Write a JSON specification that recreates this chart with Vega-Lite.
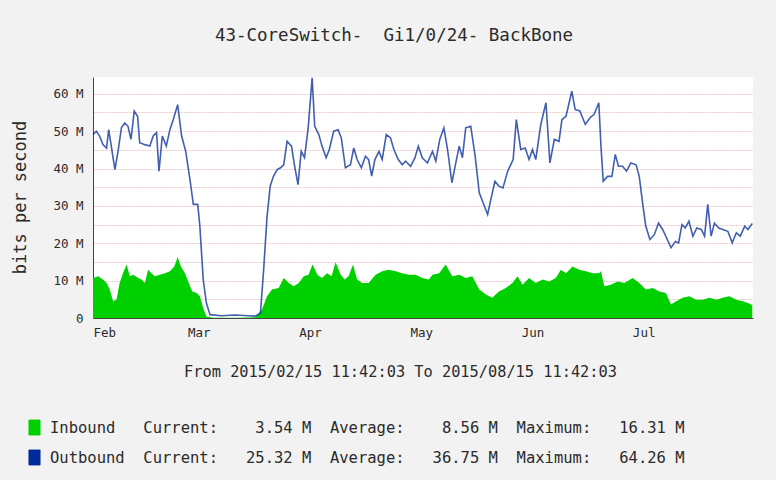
{
  "$schema": "https://vega.github.io/schema/vega-lite/v6.json",
  "autosize": "none",
  "width": 660,
  "height": 241,
  "padding": {"left": 93, "top": 77, "right": 23, "bottom": 162},
  "background": "#f2f2f2",
  "title": {
    "text": "43-CoreSwitch-\u00a0\u00a0Gi1/0/24-\u00a0BackBone",
    "font": "DejaVu Sans Mono",
    "fontSize": 17.5,
    "fontWeight": "normal",
    "color": "#2b2b2b",
    "anchor": "middle",
    "dx": -29,
    "offset": 30
  },
  "datasets": {
    "months": [
      {"m": "2015-03-01T00:00"}, {"m": "2015-04-01T00:00"}, {"m": "2015-05-01T00:00"},
      {"m": "2015-06-01T00:00"}, {"m": "2015-07-01T00:00"}, {"m": "2015-08-01T00:00"}
    ],
    "traffic": [
      {"t": "2015-02-15T12:00", "series": "Outbound", "mbps": 49.1},
      {"t": "2015-02-16T10:00", "series": "Outbound", "mbps": 50},
      {"t": "2015-02-17T07:00", "series": "Outbound", "mbps": 48.7},
      {"t": "2015-02-18T05:00", "series": "Outbound", "mbps": 46.4},
      {"t": "2015-02-19T05:00", "series": "Outbound", "mbps": 45.5},
      {"t": "2015-02-19T19:00", "series": "Outbound", "mbps": 50.4},
      {"t": "2015-02-20T12:00", "series": "Outbound", "mbps": 46},
      {"t": "2015-02-21T12:00", "series": "Outbound", "mbps": 39.7},
      {"t": "2015-02-22T10:00", "series": "Outbound", "mbps": 45},
      {"t": "2015-02-23T07:00", "series": "Outbound", "mbps": 51},
      {"t": "2015-02-24T05:00", "series": "Outbound", "mbps": 52.2},
      {"t": "2015-02-25T02:00", "series": "Outbound", "mbps": 51.3},
      {"t": "2015-02-25T22:00", "series": "Outbound", "mbps": 47.8},
      {"t": "2015-02-26T19:00", "series": "Outbound", "mbps": 55.4},
      {"t": "2015-02-27T17:00", "series": "Outbound", "mbps": 54},
      {"t": "2015-02-28T07:00", "series": "Outbound", "mbps": 46.9},
      {"t": "2015-03-01T17:00", "series": "Outbound", "mbps": 46.4},
      {"t": "2015-03-03T02:00", "series": "Outbound", "mbps": 46},
      {"t": "2015-03-04T00:00", "series": "Outbound", "mbps": 48.7},
      {"t": "2015-03-04T22:00", "series": "Outbound", "mbps": 49.6},
      {"t": "2015-03-05T14:00", "series": "Outbound", "mbps": 39.3},
      {"t": "2015-03-06T12:00", "series": "Outbound", "mbps": 48.7},
      {"t": "2015-03-07T14:00", "series": "Outbound", "mbps": 46},
      {"t": "2015-03-08T14:00", "series": "Outbound", "mbps": 50.4},
      {"t": "2015-03-09T12:00", "series": "Outbound", "mbps": 53.1},
      {"t": "2015-03-10T17:00", "series": "Outbound", "mbps": 57.1},
      {"t": "2015-03-11T19:00", "series": "Outbound", "mbps": 48.7},
      {"t": "2015-03-12T22:00", "series": "Outbound", "mbps": 44.6},
      {"t": "2015-03-14T02:00", "series": "Outbound", "mbps": 37},
      {"t": "2015-03-15T00:00", "series": "Outbound", "mbps": 30.4},
      {"t": "2015-03-16T05:00", "series": "Outbound", "mbps": 30.4},
      {"t": "2015-03-16T19:00", "series": "Outbound", "mbps": 24.6},
      {"t": "2015-03-17T17:00", "series": "Outbound", "mbps": 10.3},
      {"t": "2015-03-18T14:00", "series": "Outbound", "mbps": 4},
      {"t": "2015-03-19T14:00", "series": "Outbound", "mbps": 0.9},
      {"t": "2015-03-22T17:00", "series": "Outbound", "mbps": 0.6},
      {"t": "2015-03-26T12:00", "series": "Outbound", "mbps": 0.8},
      {"t": "2015-03-30T02:00", "series": "Outbound", "mbps": 0.6},
      {"t": "2015-04-01T00:00", "series": "Outbound", "mbps": 0.5},
      {"t": "2015-04-02T10:00", "series": "Outbound", "mbps": 1.3},
      {"t": "2015-04-03T07:00", "series": "Outbound", "mbps": 13},
      {"t": "2015-04-04T05:00", "series": "Outbound", "mbps": 27},
      {"t": "2015-04-05T02:00", "series": "Outbound", "mbps": 35.3},
      {"t": "2015-04-06T00:00", "series": "Outbound", "mbps": 38},
      {"t": "2015-04-07T00:00", "series": "Outbound", "mbps": 39.7},
      {"t": "2015-04-07T22:00", "series": "Outbound", "mbps": 40.2},
      {"t": "2015-04-08T19:00", "series": "Outbound", "mbps": 41},
      {"t": "2015-04-09T17:00", "series": "Outbound", "mbps": 47.3},
      {"t": "2015-04-10T22:00", "series": "Outbound", "mbps": 46},
      {"t": "2015-04-11T19:00", "series": "Outbound", "mbps": 40.6},
      {"t": "2015-04-12T17:00", "series": "Outbound", "mbps": 35.7},
      {"t": "2015-04-13T14:00", "series": "Outbound", "mbps": 44.6},
      {"t": "2015-04-14T12:00", "series": "Outbound", "mbps": 42.9},
      {"t": "2015-04-15T12:00", "series": "Outbound", "mbps": 50.9},
      {"t": "2015-04-16T14:00", "series": "Outbound", "mbps": 64.3},
      {"t": "2015-04-17T07:00", "series": "Outbound", "mbps": 51.3},
      {"t": "2015-04-18T10:00", "series": "Outbound", "mbps": 49.1},
      {"t": "2015-04-19T07:00", "series": "Outbound", "mbps": 46},
      {"t": "2015-04-20T10:00", "series": "Outbound", "mbps": 42.9},
      {"t": "2015-04-21T07:00", "series": "Outbound", "mbps": 45.1},
      {"t": "2015-04-22T12:00", "series": "Outbound", "mbps": 50},
      {"t": "2015-04-23T17:00", "series": "Outbound", "mbps": 50.4},
      {"t": "2015-04-24T14:00", "series": "Outbound", "mbps": 48.2},
      {"t": "2015-04-25T17:00", "series": "Outbound", "mbps": 40.2},
      {"t": "2015-04-27T02:00", "series": "Outbound", "mbps": 41},
      {"t": "2015-04-28T00:00", "series": "Outbound", "mbps": 45.5},
      {"t": "2015-04-28T22:00", "series": "Outbound", "mbps": 42.4},
      {"t": "2015-04-30T02:00", "series": "Outbound", "mbps": 40.2},
      {"t": "2015-05-01T05:00", "series": "Outbound", "mbps": 43.3},
      {"t": "2015-05-02T02:00", "series": "Outbound", "mbps": 42.4},
      {"t": "2015-05-02T22:00", "series": "Outbound", "mbps": 38},
      {"t": "2015-05-03T19:00", "series": "Outbound", "mbps": 42.4},
      {"t": "2015-05-04T22:00", "series": "Outbound", "mbps": 44.6},
      {"t": "2015-05-05T19:00", "series": "Outbound", "mbps": 42.4},
      {"t": "2015-05-06T22:00", "series": "Outbound", "mbps": 49.1},
      {"t": "2015-05-08T02:00", "series": "Outbound", "mbps": 48.2},
      {"t": "2015-05-09T00:00", "series": "Outbound", "mbps": 45.1},
      {"t": "2015-05-10T05:00", "series": "Outbound", "mbps": 42.4},
      {"t": "2015-05-11T07:00", "series": "Outbound", "mbps": 41},
      {"t": "2015-05-12T05:00", "series": "Outbound", "mbps": 42},
      {"t": "2015-05-13T14:00", "series": "Outbound", "mbps": 40.6},
      {"t": "2015-05-14T19:00", "series": "Outbound", "mbps": 42.9},
      {"t": "2015-05-15T17:00", "series": "Outbound", "mbps": 46},
      {"t": "2015-05-16T19:00", "series": "Outbound", "mbps": 42.9},
      {"t": "2015-05-18T05:00", "series": "Outbound", "mbps": 41.5},
      {"t": "2015-05-19T14:00", "series": "Outbound", "mbps": 44.6},
      {"t": "2015-05-20T12:00", "series": "Outbound", "mbps": 42},
      {"t": "2015-05-21T14:00", "series": "Outbound", "mbps": 47.8},
      {"t": "2015-05-22T17:00", "series": "Outbound", "mbps": 50.9},
      {"t": "2015-05-23T17:00", "series": "Outbound", "mbps": 45.1},
      {"t": "2015-05-24T22:00", "series": "Outbound", "mbps": 36.2},
      {"t": "2015-05-25T19:00", "series": "Outbound", "mbps": 40.6},
      {"t": "2015-05-26T22:00", "series": "Outbound", "mbps": 46},
      {"t": "2015-05-27T19:00", "series": "Outbound", "mbps": 42.9},
      {"t": "2015-05-28T17:00", "series": "Outbound", "mbps": 50.9},
      {"t": "2015-05-30T02:00", "series": "Outbound", "mbps": 51.3},
      {"t": "2015-05-31T07:00", "series": "Outbound", "mbps": 43.3},
      {"t": "2015-06-01T10:00", "series": "Outbound", "mbps": 33.5},
      {"t": "2015-06-02T12:00", "series": "Outbound", "mbps": 30.8},
      {"t": "2015-06-03T17:00", "series": "Outbound", "mbps": 27.7},
      {"t": "2015-06-04T14:00", "series": "Outbound", "mbps": 31.7},
      {"t": "2015-06-05T17:00", "series": "Outbound", "mbps": 36.6},
      {"t": "2015-06-06T19:00", "series": "Outbound", "mbps": 35.3},
      {"t": "2015-06-07T22:00", "series": "Outbound", "mbps": 34.8},
      {"t": "2015-06-09T05:00", "series": "Outbound", "mbps": 39.3},
      {"t": "2015-06-10T17:00", "series": "Outbound", "mbps": 42.4},
      {"t": "2015-06-11T14:00", "series": "Outbound", "mbps": 53.1},
      {"t": "2015-06-12T19:00", "series": "Outbound", "mbps": 45.1},
      {"t": "2015-06-14T00:00", "series": "Outbound", "mbps": 45.5},
      {"t": "2015-06-15T02:00", "series": "Outbound", "mbps": 42.4},
      {"t": "2015-06-16T00:00", "series": "Outbound", "mbps": 45.1},
      {"t": "2015-06-16T22:00", "series": "Outbound", "mbps": 42.4},
      {"t": "2015-06-18T07:00", "series": "Outbound", "mbps": 51.8},
      {"t": "2015-06-19T17:00", "series": "Outbound", "mbps": 57.6},
      {"t": "2015-06-20T19:00", "series": "Outbound", "mbps": 41.5},
      {"t": "2015-06-22T00:00", "series": "Outbound", "mbps": 47.8},
      {"t": "2015-06-23T07:00", "series": "Outbound", "mbps": 47.3},
      {"t": "2015-06-24T02:00", "series": "Outbound", "mbps": 53.1},
      {"t": "2015-06-25T05:00", "series": "Outbound", "mbps": 54},
      {"t": "2015-06-26T19:00", "series": "Outbound", "mbps": 60.7},
      {"t": "2015-06-27T17:00", "series": "Outbound", "mbps": 55.8},
      {"t": "2015-06-29T00:00", "series": "Outbound", "mbps": 55.4},
      {"t": "2015-06-30T12:00", "series": "Outbound", "mbps": 51.8},
      {"t": "2015-07-01T19:00", "series": "Outbound", "mbps": 53.6},
      {"t": "2015-07-02T22:00", "series": "Outbound", "mbps": 54.5},
      {"t": "2015-07-04T05:00", "series": "Outbound", "mbps": 57.6},
      {"t": "2015-07-04T19:00", "series": "Outbound", "mbps": 46},
      {"t": "2015-07-05T10:00", "series": "Outbound", "mbps": 36.6},
      {"t": "2015-07-06T14:00", "series": "Outbound", "mbps": 37.9},
      {"t": "2015-07-07T19:00", "series": "Outbound", "mbps": 37.9},
      {"t": "2015-07-08T17:00", "series": "Outbound", "mbps": 43.8},
      {"t": "2015-07-09T14:00", "series": "Outbound", "mbps": 40.6},
      {"t": "2015-07-10T17:00", "series": "Outbound", "mbps": 40.6},
      {"t": "2015-07-11T19:00", "series": "Outbound", "mbps": 39.3},
      {"t": "2015-07-13T00:00", "series": "Outbound", "mbps": 41.5},
      {"t": "2015-07-14T10:00", "series": "Outbound", "mbps": 41},
      {"t": "2015-07-15T07:00", "series": "Outbound", "mbps": 37.9},
      {"t": "2015-07-16T05:00", "series": "Outbound", "mbps": 30.8},
      {"t": "2015-07-17T02:00", "series": "Outbound", "mbps": 24.6},
      {"t": "2015-07-18T05:00", "series": "Outbound", "mbps": 21},
      {"t": "2015-07-19T10:00", "series": "Outbound", "mbps": 22.3},
      {"t": "2015-07-20T14:00", "series": "Outbound", "mbps": 25.4},
      {"t": "2015-07-21T17:00", "series": "Outbound", "mbps": 23.7},
      {"t": "2015-07-22T19:00", "series": "Outbound", "mbps": 21.4},
      {"t": "2015-07-24T00:00", "series": "Outbound", "mbps": 18.8},
      {"t": "2015-07-25T05:00", "series": "Outbound", "mbps": 20.5},
      {"t": "2015-07-26T02:00", "series": "Outbound", "mbps": 20.1},
      {"t": "2015-07-27T00:00", "series": "Outbound", "mbps": 25},
      {"t": "2015-07-27T22:00", "series": "Outbound", "mbps": 24.1},
      {"t": "2015-07-28T22:00", "series": "Outbound", "mbps": 25.9},
      {"t": "2015-07-30T00:00", "series": "Outbound", "mbps": 21.9},
      {"t": "2015-07-31T02:00", "series": "Outbound", "mbps": 24.1},
      {"t": "2015-08-01T07:00", "series": "Outbound", "mbps": 23.7},
      {"t": "2015-08-02T05:00", "series": "Outbound", "mbps": 21.9},
      {"t": "2015-08-03T02:00", "series": "Outbound", "mbps": 30.4},
      {"t": "2015-08-04T00:00", "series": "Outbound", "mbps": 21.9},
      {"t": "2015-08-04T22:00", "series": "Outbound", "mbps": 25.4},
      {"t": "2015-08-06T02:00", "series": "Outbound", "mbps": 24.1},
      {"t": "2015-08-07T05:00", "series": "Outbound", "mbps": 23.7},
      {"t": "2015-08-08T14:00", "series": "Outbound", "mbps": 23.2},
      {"t": "2015-08-09T19:00", "series": "Outbound", "mbps": 20.1},
      {"t": "2015-08-10T22:00", "series": "Outbound", "mbps": 22.8},
      {"t": "2015-08-12T00:00", "series": "Outbound", "mbps": 21.9},
      {"t": "2015-08-13T05:00", "series": "Outbound", "mbps": 24.6},
      {"t": "2015-08-14T02:00", "series": "Outbound", "mbps": 23.7},
      {"t": "2015-08-15T07:00", "series": "Outbound", "mbps": 25.3},
      {"t": "2015-02-15T12:00", "series": "Inbound", "mbps": 10.7},
      {"t": "2015-02-16T22:00", "series": "Inbound", "mbps": 11.2},
      {"t": "2015-02-18T05:00", "series": "Inbound", "mbps": 10.3},
      {"t": "2015-02-19T05:00", "series": "Inbound", "mbps": 9.4},
      {"t": "2015-02-20T02:00", "series": "Inbound", "mbps": 7.6},
      {"t": "2015-02-21T00:00", "series": "Inbound", "mbps": 4.5},
      {"t": "2015-02-21T22:00", "series": "Inbound", "mbps": 4.9},
      {"t": "2015-02-22T19:00", "series": "Inbound", "mbps": 9.4},
      {"t": "2015-02-23T17:00", "series": "Inbound", "mbps": 12},
      {"t": "2015-02-24T17:00", "series": "Inbound", "mbps": 14.3},
      {"t": "2015-02-25T14:00", "series": "Inbound", "mbps": 11.2},
      {"t": "2015-02-26T12:00", "series": "Inbound", "mbps": 11.6},
      {"t": "2015-02-27T22:00", "series": "Inbound", "mbps": 10.7},
      {"t": "2015-02-28T19:00", "series": "Inbound", "mbps": 10.3},
      {"t": "2015-03-01T17:00", "series": "Inbound", "mbps": 9.4},
      {"t": "2015-03-02T14:00", "series": "Inbound", "mbps": 12.9},
      {"t": "2015-03-03T12:00", "series": "Inbound", "mbps": 12},
      {"t": "2015-03-04T10:00", "series": "Inbound", "mbps": 11.2},
      {"t": "2015-03-05T19:00", "series": "Inbound", "mbps": 11.6},
      {"t": "2015-03-07T05:00", "series": "Inbound", "mbps": 12},
      {"t": "2015-03-08T14:00", "series": "Inbound", "mbps": 12.5},
      {"t": "2015-03-09T19:00", "series": "Inbound", "mbps": 13.8},
      {"t": "2015-03-10T17:00", "series": "Inbound", "mbps": 16.3},
      {"t": "2015-03-11T14:00", "series": "Inbound", "mbps": 13.8},
      {"t": "2015-03-12T17:00", "series": "Inbound", "mbps": 12},
      {"t": "2015-03-13T14:00", "series": "Inbound", "mbps": 9.8},
      {"t": "2015-03-14T17:00", "series": "Inbound", "mbps": 7.1},
      {"t": "2015-03-15T22:00", "series": "Inbound", "mbps": 6.7},
      {"t": "2015-03-16T19:00", "series": "Inbound", "mbps": 5.8},
      {"t": "2015-03-17T17:00", "series": "Inbound", "mbps": 2.7},
      {"t": "2015-03-18T14:00", "series": "Inbound", "mbps": 0.4},
      {"t": "2015-03-20T12:00", "series": "Inbound", "mbps": 0.1},
      {"t": "2015-03-27T12:00", "series": "Inbound", "mbps": 0.1},
      {"t": "2015-04-01T00:00", "series": "Inbound", "mbps": 0.2},
      {"t": "2015-04-02T19:00", "series": "Inbound", "mbps": 2.2},
      {"t": "2015-04-04T05:00", "series": "Inbound", "mbps": 5.8},
      {"t": "2015-04-05T14:00", "series": "Inbound", "mbps": 7.6},
      {"t": "2015-04-07T10:00", "series": "Inbound", "mbps": 8},
      {"t": "2015-04-08T19:00", "series": "Inbound", "mbps": 10.7},
      {"t": "2015-04-10T05:00", "series": "Inbound", "mbps": 9.4},
      {"t": "2015-04-11T12:00", "series": "Inbound", "mbps": 8.5},
      {"t": "2015-04-12T22:00", "series": "Inbound", "mbps": 9.4},
      {"t": "2015-04-14T07:00", "series": "Inbound", "mbps": 11.2},
      {"t": "2015-04-15T14:00", "series": "Inbound", "mbps": 11.6},
      {"t": "2015-04-16T17:00", "series": "Inbound", "mbps": 14.3},
      {"t": "2015-04-18T00:00", "series": "Inbound", "mbps": 11.6},
      {"t": "2015-04-19T07:00", "series": "Inbound", "mbps": 10.7},
      {"t": "2015-04-20T17:00", "series": "Inbound", "mbps": 12},
      {"t": "2015-04-21T22:00", "series": "Inbound", "mbps": 11.2},
      {"t": "2015-04-23T00:00", "series": "Inbound", "mbps": 14.9},
      {"t": "2015-04-24T10:00", "series": "Inbound", "mbps": 11.6},
      {"t": "2015-04-25T12:00", "series": "Inbound", "mbps": 10.3},
      {"t": "2015-04-26T14:00", "series": "Inbound", "mbps": 11.2},
      {"t": "2015-04-27T19:00", "series": "Inbound", "mbps": 14.3},
      {"t": "2015-04-28T22:00", "series": "Inbound", "mbps": 10.3},
      {"t": "2015-04-30T07:00", "series": "Inbound", "mbps": 9.4},
      {"t": "2015-05-02T02:00", "series": "Inbound", "mbps": 9.4},
      {"t": "2015-05-04T00:00", "series": "Inbound", "mbps": 11.6},
      {"t": "2015-05-05T19:00", "series": "Inbound", "mbps": 12.5},
      {"t": "2015-05-07T14:00", "series": "Inbound", "mbps": 12.9},
      {"t": "2015-05-09T12:00", "series": "Inbound", "mbps": 12.5},
      {"t": "2015-05-11T07:00", "series": "Inbound", "mbps": 12},
      {"t": "2015-05-13T02:00", "series": "Inbound", "mbps": 11.6},
      {"t": "2015-05-15T00:00", "series": "Inbound", "mbps": 11.6},
      {"t": "2015-05-16T19:00", "series": "Inbound", "mbps": 10.7},
      {"t": "2015-05-18T14:00", "series": "Inbound", "mbps": 10.3},
      {"t": "2015-05-19T14:00", "series": "Inbound", "mbps": 11.6},
      {"t": "2015-05-21T10:00", "series": "Inbound", "mbps": 12},
      {"t": "2015-05-23T05:00", "series": "Inbound", "mbps": 14.3},
      {"t": "2015-05-25T00:00", "series": "Inbound", "mbps": 11.2},
      {"t": "2015-05-26T22:00", "series": "Inbound", "mbps": 11.6},
      {"t": "2015-05-28T17:00", "series": "Inbound", "mbps": 10.7},
      {"t": "2015-05-30T12:00", "series": "Inbound", "mbps": 11.2},
      {"t": "2015-06-01T10:00", "series": "Inbound", "mbps": 7.6},
      {"t": "2015-06-03T05:00", "series": "Inbound", "mbps": 6.3},
      {"t": "2015-06-05T00:00", "series": "Inbound", "mbps": 5.4},
      {"t": "2015-06-06T19:00", "series": "Inbound", "mbps": 7.1},
      {"t": "2015-06-08T17:00", "series": "Inbound", "mbps": 8},
      {"t": "2015-06-10T12:00", "series": "Inbound", "mbps": 9.4},
      {"t": "2015-06-11T22:00", "series": "Inbound", "mbps": 11.2},
      {"t": "2015-06-13T07:00", "series": "Inbound", "mbps": 8.9},
      {"t": "2015-06-15T02:00", "series": "Inbound", "mbps": 10.7},
      {"t": "2015-06-16T22:00", "series": "Inbound", "mbps": 9.4},
      {"t": "2015-06-18T19:00", "series": "Inbound", "mbps": 10.3},
      {"t": "2015-06-20T14:00", "series": "Inbound", "mbps": 9.8},
      {"t": "2015-06-22T10:00", "series": "Inbound", "mbps": 10.7},
      {"t": "2015-06-23T19:00", "series": "Inbound", "mbps": 12.9},
      {"t": "2015-06-25T05:00", "series": "Inbound", "mbps": 12},
      {"t": "2015-06-27T00:00", "series": "Inbound", "mbps": 13.8},
      {"t": "2015-06-28T19:00", "series": "Inbound", "mbps": 12.9},
      {"t": "2015-06-30T17:00", "series": "Inbound", "mbps": 12.5},
      {"t": "2015-07-02T12:00", "series": "Inbound", "mbps": 12},
      {"t": "2015-07-04T07:00", "series": "Inbound", "mbps": 12},
      {"t": "2015-07-04T19:00", "series": "Inbound", "mbps": 12.5},
      {"t": "2015-07-05T17:00", "series": "Inbound", "mbps": 8.5},
      {"t": "2015-07-07T12:00", "series": "Inbound", "mbps": 8.9},
      {"t": "2015-07-09T10:00", "series": "Inbound", "mbps": 9.8},
      {"t": "2015-07-11T05:00", "series": "Inbound", "mbps": 9.4},
      {"t": "2015-07-13T12:00", "series": "Inbound", "mbps": 10.7},
      {"t": "2015-07-15T07:00", "series": "Inbound", "mbps": 9.4},
      {"t": "2015-07-17T02:00", "series": "Inbound", "mbps": 7.6},
      {"t": "2015-07-19T00:00", "series": "Inbound", "mbps": 8},
      {"t": "2015-07-20T19:00", "series": "Inbound", "mbps": 7.1},
      {"t": "2015-07-22T14:00", "series": "Inbound", "mbps": 6.7},
      {"t": "2015-07-24T00:00", "series": "Inbound", "mbps": 3.6},
      {"t": "2015-07-25T10:00", "series": "Inbound", "mbps": 4.5},
      {"t": "2015-07-27T05:00", "series": "Inbound", "mbps": 5.4},
      {"t": "2015-07-29T00:00", "series": "Inbound", "mbps": 5.8},
      {"t": "2015-07-30T22:00", "series": "Inbound", "mbps": 4.9},
      {"t": "2015-08-01T17:00", "series": "Inbound", "mbps": 4.9},
      {"t": "2015-08-03T12:00", "series": "Inbound", "mbps": 5.4},
      {"t": "2015-08-05T10:00", "series": "Inbound", "mbps": 4.9},
      {"t": "2015-08-07T05:00", "series": "Inbound", "mbps": 5.4},
      {"t": "2015-08-09T00:00", "series": "Inbound", "mbps": 5.8},
      {"t": "2015-08-10T22:00", "series": "Inbound", "mbps": 4.9},
      {"t": "2015-08-12T17:00", "series": "Inbound", "mbps": 4.5},
      {"t": "2015-08-14T02:00", "series": "Inbound", "mbps": 4},
      {"t": "2015-08-15T07:00", "series": "Inbound", "mbps": 3.5}
    ]
  },
  "layer": [
    {
      "data": {"name": "months"},
      "mark": {"type": "rule", "color": "#e6c6c6", "strokeWidth": 1, "strokeDash": [2, 1]},
      "encoding": {
        "x": {"field": "m", "type": "temporal"}
      }
    },
    {
      "data": {"name": "traffic"},
      "transform": [{"filter": "datum.series == 'Inbound'"}],
      "mark": {"type": "area", "interpolate": "linear", "opacity": 1},
      "encoding": {
        "x": {"field": "t", "type": "temporal"},
        "y": {"field": "mbps", "type": "quantitative"},
        "color": {"field": "series", "type": "nominal"}
      }
    },
    {
      "data": {"name": "traffic"},
      "transform": [{"filter": "datum.series == 'Outbound'"}],
      "mark": {"type": "line", "interpolate": "linear", "strokeWidth": 1.6, "opacity": 0.75},
      "encoding": {
        "x": {"field": "t", "type": "temporal"},
        "y": {"field": "mbps", "type": "quantitative"},
        "color": {"field": "series", "type": "nominal"}
      }
    }
  ],
  "encoding": {
    "x": {
      "field": "t",
      "type": "temporal",
      "scale": {
        "domain": [
          {"year": 2015, "month": 2, "date": 15, "hours": 11, "minutes": 42},
          {"year": 2015, "month": 8, "date": 15, "hours": 11, "minutes": 42}
        ]
      },
      "axis": {
        "values": [
          {"year": 2015, "month": 2, "date": 15, "hours": 12},
          {"year": 2015, "month": 3, "date": 16, "hours": 12},
          {"year": 2015, "month": 4, "date": 16},
          {"year": 2015, "month": 5, "date": 16, "hours": 12},
          {"year": 2015, "month": 6, "date": 16},
          {"year": 2015, "month": 7, "date": 16, "hours": 12}
        ],
        "format": "%b",
        "grid": false,
        "ticks": false,
        "labelPadding": 8,
        "labelFont": "DejaVu Sans Mono",
        "labelFontSize": 12.5,
        "labelColor": "#2b2b2b",
        "domainColor": "#444",
        "title": "From 2015/02/15 11:42:03 To 2015/08/15 11:42:03",
        "titleFont": "DejaVu Sans Mono",
        "titleFontSize": 15.3,
        "titleFontWeight": "normal",
        "titleColor": "#2b2b2b",
        "titleX": 307,
        "titleY": 53,
        "titleAlign": "center",
        "titleBaseline": "middle"
      }
    },
    "y": {
      "field": "mbps",
      "type": "quantitative",
      "scale": {"domain": [0, 64.5], "nice": false},
      "axis": {
        "values": [0, 5, 10, 15, 20, 25, 30, 35, 40, 45, 50, 55, 60],
        "labelExpr": "datum.value == 0 ? '0' : (datum.value % 10 == 0 ? datum.value + ' M' : '')",
        "grid": true,
        "gridColor": "#ebcaca",
        "gridDash": [2, 1],
        "ticks": false,
        "labelPadding": 10,
        "labelFont": "DejaVu Sans Mono",
        "labelFontSize": 12.5,
        "labelColor": "#2b2b2b",
        "domainColor": "#444",
        "title": "bits per second",
        "titleFont": "DejaVu Sans Mono",
        "titleFontSize": 17,
        "titleFontWeight": "normal",
        "titleColor": "#2b2b2b",
        "titleAngle": -90,
        "titleX": -73,
        "titleY": 120,
        "titleAlign": "center",
        "titleBaseline": "middle"
      }
    },
    "color": {
      "field": "series",
      "type": "nominal",
      "scale": {"domain": ["Inbound", "Outbound"], "range": ["#00CF00", "#002A97"]},
      "legend": {
        "orient": "none",
        "legendX": -67,
        "legendY": 342,
        "title": null,
        "padding": 0,
        "symbolType": "M-0.7,-0.94H0.7V0.94H-0.7Z",
        "symbolSize": 256,
        "symbolStrokeColor": "#333",
        "symbolStrokeWidth": 0.8,
        "symbolOpacity": 1,
        "labelOffset": 7,
        "rowPadding": 11,
        "labelFont": "DejaVu Sans Mono",
        "labelFontSize": 15.5,
        "labelColor": "#2b2b2b",
        "labelLimit": 900,
        "labelExpr": "datum.label == 'Inbound' ? 'Inbound\u00a0\u00a0\u00a0Current:\u00a0\u00a0\u00a0\u00a03.54\u00a0M\u00a0\u00a0Average:\u00a0\u00a0\u00a0\u00a08.56\u00a0M\u00a0\u00a0Maximum:\u00a0\u00a0\u00a016.31\u00a0M' : 'Outbound\u00a0\u00a0Current:\u00a0\u00a0\u00a025.32\u00a0M\u00a0\u00a0Average:\u00a0\u00a0\u00a036.75\u00a0M\u00a0\u00a0Maximum:\u00a0\u00a0\u00a064.26\u00a0M'"
      }
    }
  },
  "config": {
    "view": {"fill": "white", "stroke": null},
    "font": "DejaVu Sans Mono"
  }
}
